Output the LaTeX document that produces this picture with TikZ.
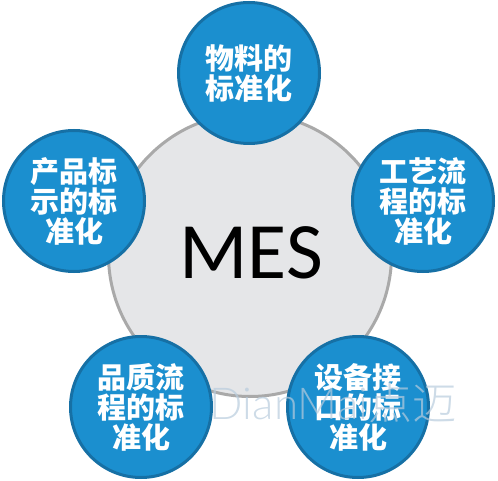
\documentclass[tikz,border=0pt]{standalone}
\usepackage{fontspec}
\setmainfont{Carlito}
\newfontfamily\cjk{Noto Sans CJK SC}
\newfontfamily\cjklight{Noto Sans CJK SC Light}
\newfontfamily\cjkbold{Noto Sans CJK SC Black}
\newfontfamily\wmfont{Lato Light}
\definecolor{bluefill}{HTML}{1B8FCF}
\definecolor{blueline}{HTML}{1670A5}
\definecolor{hubfill}{HTML}{E5E6E8}
\definecolor{hubline}{HTML}{A9A9A9}
\definecolor{wmcol}{HTML}{B8CCDD}
\tikzset{
  hub/.style={circle, fill=hubfill, draw=hubline, line width=3pt, minimum size=283pt, inner sep=0pt},
  petal/.style={circle, fill=bluefill, draw=blueline, line width=3pt, minimum size=141pt, inner sep=0pt,
    text=white, align=center, font=\cjkbold\fontsize{29}{30}\selectfont},
}
\begin{document}
\begin{tikzpicture}[x=1pt,y=-1pt]
\useasboundingbox (0,0) rectangle (498,481);
\node[hub] (hub) at (250,255) {};
\node[font=\fontsize{80}{80}\selectfont] (mes) at (251,253) {MES};
\node[petal] (p1) at (249,73) {物料的\\标准化};
\node[petal] (p2) at (423,201) {工艺流\\程的标\\准化};
\node[petal] (p3) at (74,201) {产品标\\示的标\\准化};
\node[petal] (p4) at (141,407) {品质流\\程的标\\准化};
\node[petal] (p5) at (358,407) {设备接\\口的标\\准化};
\node[text=wmcol, opacity=0.7, font=\wmfont\fontsize{44}{44}\selectfont, inner sep=0pt] (wm) at (333,403) {DianMai{\cjklight\fontsize{44}{44}\selectfont 点迈}};
\end{tikzpicture}
\end{document}
